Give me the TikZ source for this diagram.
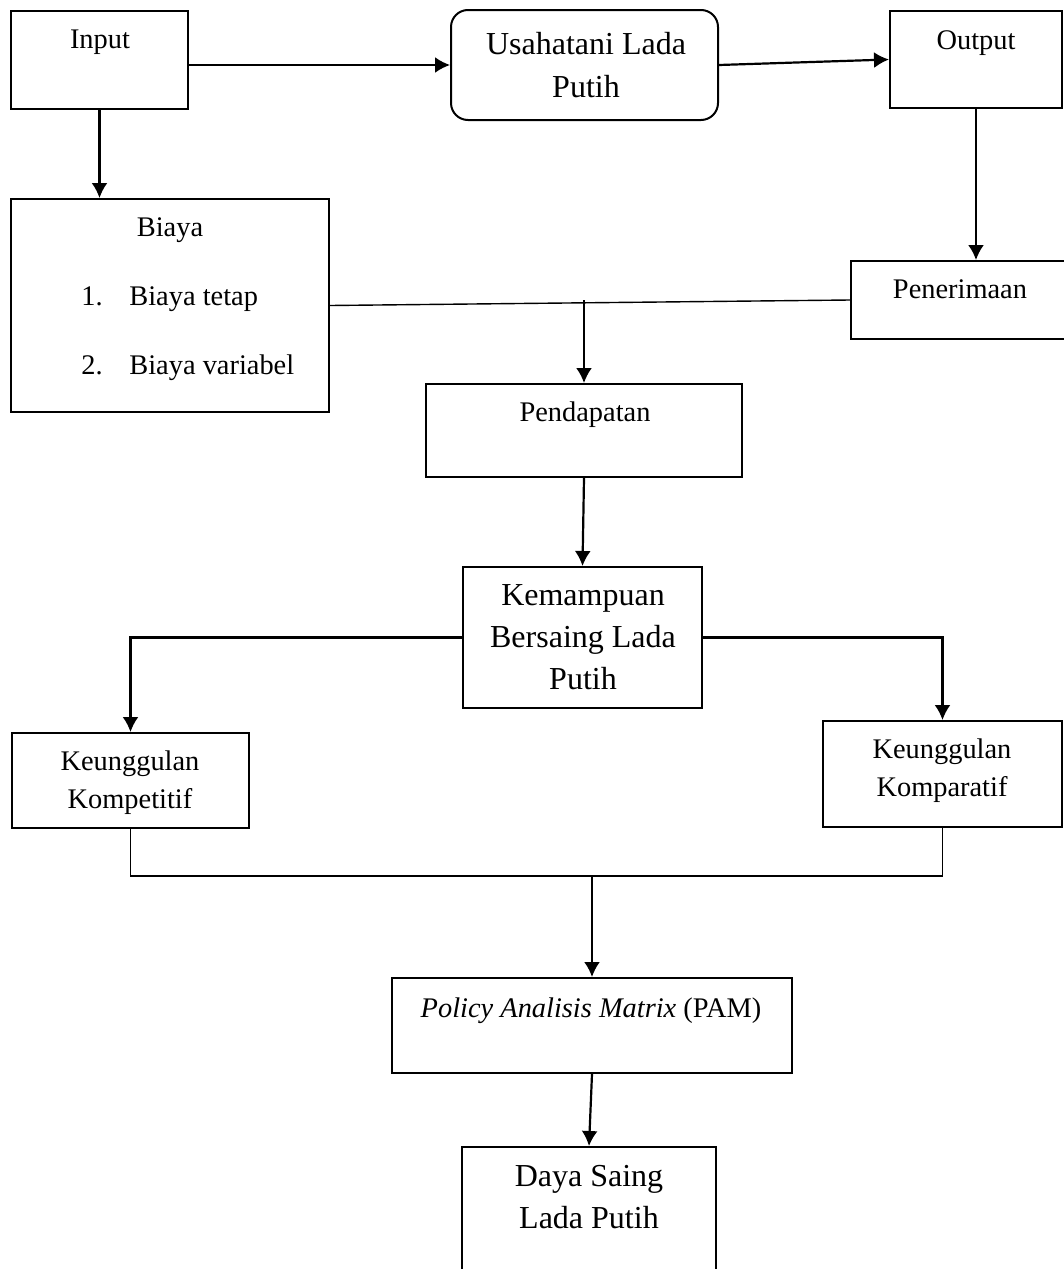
\documentclass[tikz,border=0pt]{standalone}
\usepackage{fontspec}
\setmainfont{Liberation Serif}
\usetikzlibrary{arrows.meta,calc}
\newcommand{\normtext}{\fontsize{14.2}{19}\selectfont}
\newcommand{\bigtext}{\fontsize{16}{21}\selectfont}
\tikzset{
  box/.style={draw, line width=1pt, inner sep=0pt},
  txt/.style={anchor=base, inner sep=0pt, align=center, font=\normtext},
  bigtxt/.style={txt, font=\bigtext},
  conn/.style={line width=1.1pt},
  thinconn/.style={line width=0.7pt}
}
\begin{document}
\begin{tikzpicture}[x={(0.5pt,0)},y={(0,-0.5pt)}, >={Latex[length=7.5pt,width=8pt]}]
\useasboundingbox (0,0) rectangle (1064,1269);
\clip (0,0) rectangle (1064,1269);

% boxes
\node[box, minimum width=88.5pt, minimum height=49pt] (input) at (99.5,60) {};
\node[box, rounded corners=8.5pt, minimum width=133.5pt, minimum height=55pt] (usaha) at (584.5,65) {};
\node[box, minimum width=86pt, minimum height=48.5pt] (output) at (976,59.5) {};
\node[box, minimum width=159pt, minimum height=106.5pt] (biaya) at (170,305.5) {};
\node[box, minimum width=109.5pt, minimum height=39pt] (pener) at (960.5,300) {};
\node[box, minimum width=158pt, minimum height=46.5pt] (pendapatan) at (584,430.5) {};
\node[box, minimum width=119.5pt, minimum height=70.5pt] (kemampuan) at (582.5,637.5) {};
\node[box, minimum width=118.5pt, minimum height=47.5pt] (kompetitif) at (130.5,780.5) {};
\node[box, minimum width=119.5pt, minimum height=53pt] (komparatif) at (942.5,774) {};
\node[box, minimum width=200pt, minimum height=47.5pt] (pam) at (592,1025.5) {};
\node[box, minimum width=127pt, minimum height=76.5pt] (daya) at (589,1223.5) {};

% texts (multi-line: base is the last line)
\node[txt] (inputtxt) at (100,48) {Input};
\node[bigtxt] (usahatxt) at (586,97) {Usahatani Lada\\Putih};
\node[txt] (outputtxt) at (976,49) {Output};
\node[txt] (biayatxt) at (170,236) {Biaya};
\node[txt, anchor=base west] (biaya1) at (81,305) {\makebox[24pt][l]{1.}Biaya tetap};
\node[txt, anchor=base west] (biaya2) at (81,374) {\makebox[24pt][l]{2.}Biaya variabel};
\node[txt] (penertxt) at (960,298) {Penerimaan};
\node[txt] (pendapatantxt) at (585,421) {Pendapatan};
\node[bigtxt] (kemampuantxt) at (583,689) {Kemampuan\\Bersaing Lada\\Putih};
\node[txt] (kompetitiftxt) at (130,808) {Keunggulan\\Kompetitif};
\node[txt] (komparatiftxt) at (942,796) {Keunggulan\\Komparatif};
\node[txt] (pamtxt) at (591,1017) {\textit{Policy Analisis Matrix} (PAM)};
\node[bigtxt] (dayatxt) at (589,1228) {Daya Saing\\Lada Putih};

% connectors
\draw[conn,->] (input.east |- usaha.west) -- (usaha.west);
\draw[conn,->] (usaha.east) -- (output.west);
\draw[conn,->] (input.south) -- (input.south |- biaya.north);
\draw[conn,->] (output.south) -- (output.south |- pener.north);
\draw[thinconn] (biaya.east) -- (pener.west);
\draw[conn,->] (pendapatan.north |- pener.west) -- (pendapatan.north);
\draw[conn,->] (pendapatan.south) -- (kemampuan.north);
\draw[conn,->] (kemampuan.west) -| (kompetitif.north);
\draw[conn,->] (kemampuan.east) -| (komparatif.north);
\coordinate (merge) at (pam.north |- 0,876);
\draw[thinconn] (kompetitif.south) |- (merge) -| (komparatif.south);
\draw[conn,->] (merge) -- (pam.north);
\draw[conn,->] (pam.south) -- (daya.north);
\end{tikzpicture}
\end{document}
